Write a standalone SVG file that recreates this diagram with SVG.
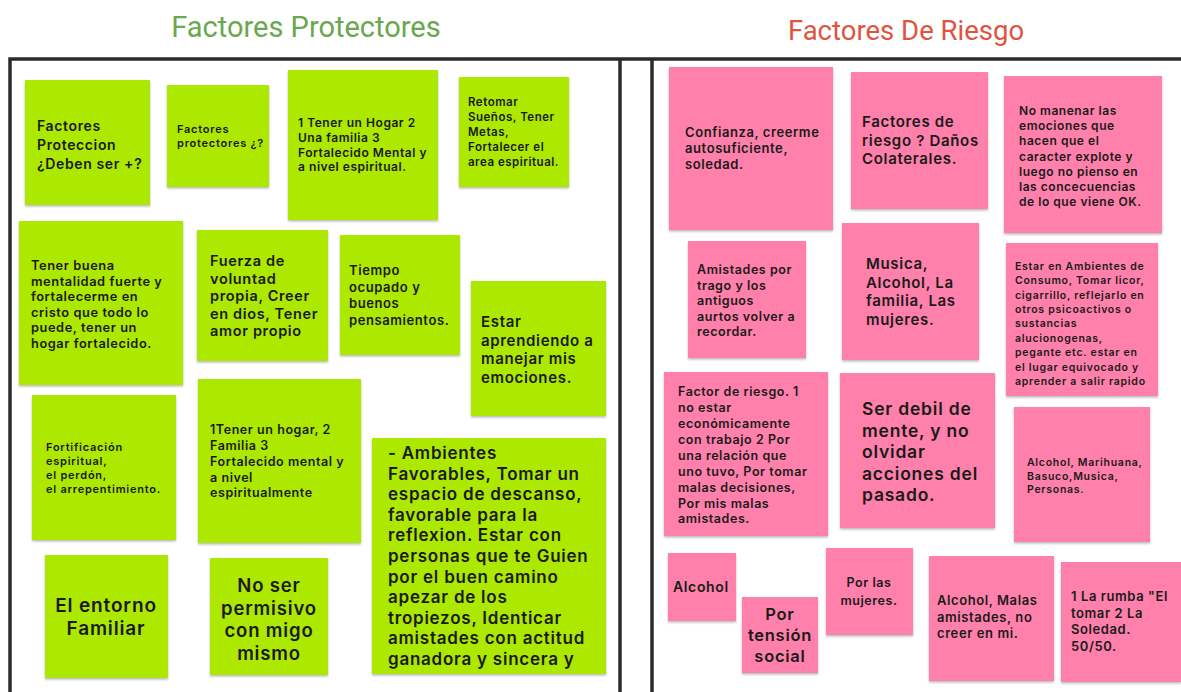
<svg xmlns="http://www.w3.org/2000/svg" width="1181" height="692" viewBox="0 0 1181 692">
<defs>
<filter id="sh" x="-10%" y="-10%" width="120%" height="125%"><feDropShadow dx="0" dy="1.5" stdDeviation="1.2" flood-color="#000" flood-opacity="0.28"/></filter>
</defs>
<style>
.g{fill:#ade800;filter:url(#sh)}
.p{fill:#ff80ab;filter:url(#sh)}
text{font-family:Inter,"Open Sans",sans-serif;font-weight:600;fill:#1a1a1a;letter-spacing:0.045em}
.sm{letter-spacing:0.07em}
.frame{fill:none;stroke:#2b2b2b;stroke-width:3.5}
.title{font-family:Roboto,"Liberation Sans",sans-serif;font-weight:400;text-anchor:middle;letter-spacing:0}
.c{text-anchor:middle}
</style>
<rect width="1181" height="692" fill="#fff"/>
<text class="title" x="306" y="37" font-size="29" style="fill:#6aa84f">Factores Protectores</text>
<text class="title" x="906" y="40" font-size="27.5" style="fill:#e0533f">Factores De Riesgo</text>
<g id="frames">
<path class="frame" d="M10,692 V59 H1181"/>
<path class="frame" d="M620,59 V692 M652,59 V692"/>
</g>
<g id="p1"><rect class="g" x="25" y="80" width="125" height="125"/><text font-size="14" x="37"><tspan x="37" y="131">Factores</tspan><tspan x="37" y="150">Proteccion</tspan><tspan x="37" y="169">¿Deben ser +?</tspan></text></g>
<g id="p2"><rect class="g" x="167" y="85" width="102" height="102"/><text class="sm" font-size="11" x="177"><tspan x="177" y="133">Factores</tspan><tspan x="177" y="147">protectores ¿?</tspan></text></g>
<g id="p3"><rect class="g" x="288" y="70" width="150" height="150"/><text font-size="12" x="298"><tspan x="298" y="127">1 Tener un Hogar 2</tspan><tspan x="298" y="142">Una familia 3</tspan><tspan x="298" y="157">Fortalecido Mental y</tspan><tspan x="298" y="171">a nivel espiritual.</tspan></text></g>
<g id="p4"><rect class="g" x="459" y="77" width="110" height="110"/><text font-size="11.5" x="468"><tspan x="468" y="106">Retomar</tspan><tspan x="468" y="121">Sueños, Tener</tspan><tspan x="468" y="136">Metas,</tspan><tspan x="468" y="151">Fortalecer el</tspan><tspan x="468" y="166">area espiritual.</tspan></text></g>
<g id="p5"><rect class="g" x="19" y="221" width="164" height="164"/><text font-size="12.8" x="31"><tspan x="31" y="270">Tener buena</tspan><tspan x="31" y="285.5">mentalidad fuerte  y</tspan><tspan x="31" y="301">fortalecerme en</tspan><tspan x="31" y="316.5">cristo que todo lo</tspan><tspan x="31" y="332">puede, tener un</tspan><tspan x="31" y="347.5">hogar fortalecido.</tspan></text></g>
<g id="p6"><rect class="g" x="197" y="230" width="131" height="131"/><text font-size="14.5" x="210"><tspan x="210" y="266">Fuerza de</tspan><tspan x="210" y="283.5">voluntad</tspan><tspan x="210" y="301">propia, Creer</tspan><tspan x="210" y="318.5">en dios, Tener</tspan><tspan x="210" y="336">amor propio</tspan></text></g>
<g id="p7"><rect class="g" x="340" y="235" width="120" height="120"/><text font-size="13" x="349"><tspan x="349" y="275">Tiempo</tspan><tspan x="349" y="291.5">ocupado y</tspan><tspan x="349" y="308">buenos</tspan><tspan x="349" y="324.5">pensamientos.</tspan></text></g>
<g id="p8"><rect class="g" x="471" y="281" width="135" height="135"/><text font-size="15" x="481"><tspan x="481" y="327">Estar</tspan><tspan x="481" y="345.5">aprendiendo a</tspan><tspan x="481" y="364">manejar mis</tspan><tspan x="481" y="382.5">emociones.</tspan></text></g>
<g id="p9"><rect class="g" x="32" y="395" width="144" height="145"/><text class="sm" font-size="11" x="46"><tspan x="46" y="451">Fortificación</tspan><tspan x="46" y="465">espiritual,</tspan><tspan x="46" y="479">el perdón,</tspan><tspan x="46" y="493">el arrepentimiento.</tspan></text></g>
<g id="p10"><rect class="g" x="198" y="379" width="163" height="164"/><text font-size="12.5" x="210"><tspan x="210" y="434">1Tener un hogar, 2</tspan><tspan x="210" y="450">Familia 3</tspan><tspan x="210" y="466">Fortalecido mental y</tspan><tspan x="210" y="481.5">a nivel</tspan><tspan x="210" y="497">espiritualmente</tspan></text></g>
<g id="p11"><rect class="g" x="372" y="438" width="234" height="236"/><text font-size="17" x="388"><tspan x="388" y="459">- Ambientes</tspan><tspan x="388" y="479.6">Favorables, Tomar un</tspan><tspan x="388" y="500.2">espacio de descanso,</tspan><tspan x="388" y="520.8">favorable para la</tspan><tspan x="388" y="541.4">reflexion. Estar con</tspan><tspan x="388" y="562">personas que te Guien</tspan><tspan x="388" y="582.6">por el buen camino</tspan><tspan x="388" y="603.2">apezar de los</tspan><tspan x="388" y="623.8">tropiezos, Identicar</tspan><tspan x="388" y="644.4">amistades con actitud</tspan><tspan x="388" y="665">ganadora y sincera y</tspan></text></g>
<g id="p12"><rect class="g" x="45" y="555" width="123" height="123"/><text class="c" font-size="19" x="106"><tspan x="106" y="612">El entorno</tspan><tspan x="106" y="635">Familiar</tspan></text></g>
<g id="p13"><rect class="g" x="210" y="558" width="118" height="117"/><text class="c" font-size="18.5" x="269"><tspan x="269" y="592">No ser</tspan><tspan x="269" y="614.5">permisivo</tspan><tspan x="269" y="637">con migo</tspan><tspan x="269" y="659.5">mismo</tspan></text></g>
<g id="r1"><rect class="p" x="669" y="67" width="164" height="163"/><text font-size="13" x="685"><tspan x="685" y="137">Confianza, creerme</tspan><tspan x="685" y="153">autosuficiente,</tspan><tspan x="685" y="169">soledad.</tspan></text></g>
<g id="r2"><rect class="p" x="851" y="72" width="137" height="137"/><text font-size="15" x="862"><tspan x="862" y="127">Factores de</tspan><tspan x="862" y="145.5">riesgo ? Daños</tspan><tspan x="862" y="164">Colaterales.</tspan></text></g>
<g id="r3"><rect class="p" x="1004" y="76" width="158" height="157"/><text font-size="12" x="1019"><tspan x="1019" y="115">No manenar las</tspan><tspan x="1019" y="130">emociones que</tspan><tspan x="1019" y="145">hacen que el</tspan><tspan x="1019" y="161">caracter explote y</tspan><tspan x="1019" y="176">luego no pienso en</tspan><tspan x="1019" y="191">las concecuencias</tspan><tspan x="1019" y="206">de lo que viene OK.</tspan></text></g>
<g id="r4"><rect class="p" x="688" y="241" width="118" height="117"/><text font-size="12.5" x="697"><tspan x="697" y="274">Amistades por</tspan><tspan x="697" y="289.5">trago y los</tspan><tspan x="697" y="305">antiguos</tspan><tspan x="697" y="320.5">aurtos volver a</tspan><tspan x="697" y="336">recordar.</tspan></text></g>
<g id="r5"><rect class="p" x="842" y="223" width="137" height="137"/><text font-size="15" x="866"><tspan x="866" y="269">Musica,</tspan><tspan x="866" y="287.5">Alcohol, La</tspan><tspan x="866" y="306">familia, Las</tspan><tspan x="866" y="324.5">mujeres.</tspan></text></g>
<g id="r6"><rect class="p" x="1006" y="243" width="152" height="153"/><text class="sm" font-size="10.5" x="1015"><tspan x="1015" y="270">Estar en Ambientes de</tspan><tspan x="1015" y="284">Consumo, Tomar licor,</tspan><tspan x="1015" y="299">cigarrillo, reflejarlo en</tspan><tspan x="1015" y="313">otros psicoactivos o</tspan><tspan x="1015" y="327">sustancias</tspan><tspan x="1015" y="342">alucionogenas,</tspan><tspan x="1015" y="356">pegante etc. estar en</tspan><tspan x="1015" y="371">el lugar equivocado y</tspan><tspan x="1015" y="385">aprender a salir rapido</tspan></text></g>
<g id="r7"><rect class="p" x="664" y="372" width="164" height="164"/><text font-size="12.5" x="678"><tspan x="678" y="396">Factor de riesgo. 1</tspan><tspan x="678" y="412">no estar</tspan><tspan x="678" y="428">económicamente</tspan><tspan x="678" y="444">con trabajo 2 Por</tspan><tspan x="678" y="460">una relación que</tspan><tspan x="678" y="476">uno tuvo, Por tomar</tspan><tspan x="678" y="492">malas decisiones,</tspan><tspan x="678" y="507.5">Por mis malas</tspan><tspan x="678" y="523">amistades.</tspan></text></g>
<g id="r8"><rect class="p" x="840" y="373" width="155" height="155"/><text font-size="17.5" x="862"><tspan x="862" y="415">Ser debil de</tspan><tspan x="862" y="436.5">mente, y no</tspan><tspan x="862" y="458">olvidar</tspan><tspan x="862" y="479.5">acciones del</tspan><tspan x="862" y="501">pasado.</tspan></text></g>
<g id="r9"><rect class="p" x="1014" y="407" width="136" height="135"/><text class="sm" font-size="10.5" x="1027"><tspan x="1027" y="466">Alcohol, Marihuana,</tspan><tspan x="1027" y="479.5">Basuco,Musica,</tspan><tspan x="1027" y="493">Personas.</tspan></text></g>
<g id="r10"><rect class="p" x="668" y="553" width="68" height="68"/><text font-size="14" x="673" y="592">Alcohol</text></g>
<g id="r11"><rect class="p" x="742" y="597" width="76" height="76"/><text class="c" font-size="16.5" x="780"><tspan x="780" y="620">Por</tspan><tspan x="780" y="641">tensión</tspan><tspan x="780" y="662">social</tspan></text></g>
<g id="r12"><rect class="p" x="826" y="548" width="87" height="87"/><text class="c" font-size="12.5" x="869"><tspan x="869" y="587">Por las</tspan><tspan x="869" y="605">mujeres.</tspan></text></g>
<g id="r13"><rect class="p" x="929" y="556" width="125" height="125"/><text font-size="13" x="937"><tspan x="937" y="605">Alcohol, Malas</tspan><tspan x="937" y="621.5">amistades, no</tspan><tspan x="937" y="638">creer en mi.</tspan></text></g>
<g id="r14"><rect class="p" x="1061" y="562" width="120" height="120"/><text font-size="13" x="1071"><tspan x="1071" y="601">1 La rumba "El</tspan><tspan x="1071" y="617.5">tomar 2 La</tspan><tspan x="1071" y="634">Soledad.</tspan><tspan x="1071" y="650.5">50/50.</tspan></text></g>
</svg>
